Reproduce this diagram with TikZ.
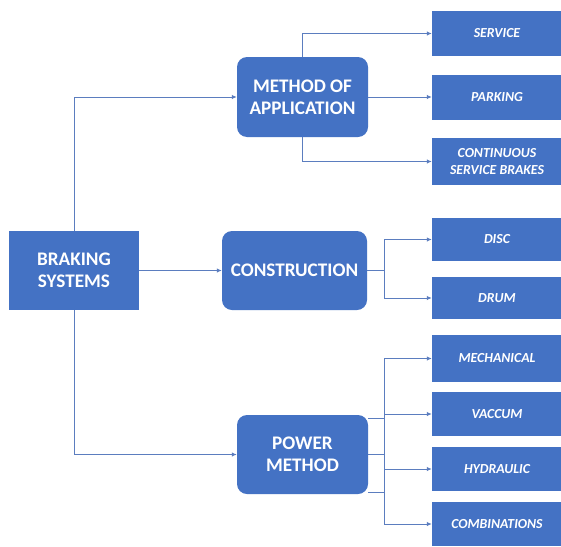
\documentclass[tikz,border=0pt]{standalone}
\usepackage{fontspec}
\setmainfont{Carlito}
\usetikzlibrary{arrows.meta}
\definecolor{boxblue}{HTML}{4472C4}
\definecolor{lineblue}{HTML}{5B7DBF}
\begin{document}
\begin{tikzpicture}[x=1pt,y=-1pt,
  mainbox/.style={fill=boxblue,text=white,inner sep=0pt,align=center,
    font=\bfseries\fontsize{19.2}{22}\selectfont},
  roundbox/.style={mainbox,rounded corners=10pt},
  leafbox/.style={fill=boxblue,text=white,inner sep=0pt,align=center,
    minimum width=130pt,font=\bfseries\itshape\fontsize{13.8}{16.5}\selectfont},
  conn/.style={draw=lineblue,line width=1pt},
  arr/.style={conn,-{Latex[length=5pt,width=4.5pt]}}]
\fill[white] (0,0) rectangle (561,546);
\useasboundingbox (0,0) rectangle (561,546);
% main nodes
\node[mainbox,minimum width=130pt,minimum height=79pt] (bs) at (74,270.5) {BRAKING\\SYSTEMS};
\node[roundbox,minimum width=131pt,minimum height=80pt] (moa) at (302.5,97) {METHOD OF\\APPLICATION};
\node[roundbox,minimum width=145pt,minimum height=79pt] (con) at (294.5,270.5) {CONSTRUCTION};
\node[roundbox,minimum width=131pt,minimum height=79pt] (pm) at (302.5,454.5) {POWER\\METHOD};
% leaves
\node[leafbox,minimum height=45pt] (service) at (497,33.5) {SERVICE};
\node[leafbox,minimum height=45pt] (parking) at (497,97.5) {PARKING};
\node[leafbox,minimum height=47pt] (cont) at (497,161.5) {CONTINUOUS\\SERVICE BRAKES};
\node[leafbox,minimum height=43pt] (disc) at (497,239.5) {DISC};
\node[leafbox,minimum height=42pt] (drum) at (497,298) {DRUM};
\node[leafbox,minimum height=47pt] (mech) at (497,358.5) {MECHANICAL};
\node[leafbox,minimum height=44pt] (vac) at (497,414) {VACCUM};
\node[leafbox,minimum height=44pt] (hyd) at (497,469) {HYDRAULIC};
\node[leafbox,minimum height=44pt] (comb) at (497,524) {COMBINATIONS};
% junctions
\coordinate (cj) at (384,270.5);
\coordinate (pj) at (384,454.5);
% connectors
\draw[arr] (bs.north) |- (moa.west);
\draw[arr] (bs.east) -- (con.west);
\draw[arr] (bs.south) |- (pm.west);
\draw[arr] (moa.north) |- (service.west);
\draw[arr] (moa.east) -- (moa.east -| parking.west);
\draw[arr] (moa.south) |- (cont.west);
\draw[conn] (con.east) -- (cj);
\draw[arr] (cj) |- (disc.west);
\draw[arr] (cj) |- (drum.west);
\draw[conn] ([yshift=36.5pt]pm.east) -- ([yshift=36.5pt]pm.east -| pj);
\draw[conn] (pm.east) -- (pj);
\draw[conn] ([yshift=-37.5pt]pm.east) -- ([yshift=-37.5pt]pm.east -| pj);
\draw[arr] (pj) |- (mech.west);
\draw[arr] (pj) |- (vac.west);
\draw[arr] (pj) |- (hyd.west);
\draw[arr] (pj) |- (comb.west);
\end{tikzpicture}
\end{document}
